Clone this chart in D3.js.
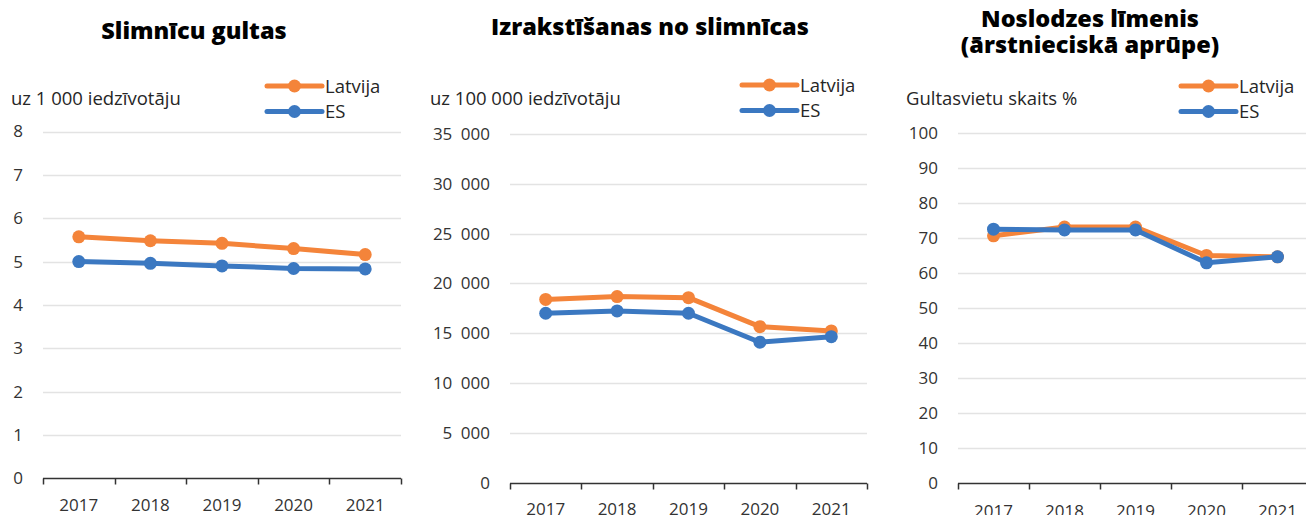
<!DOCTYPE html>
<html>
<head>
<meta charset="utf-8">
<script src="https://cdn.jsdelivr.net/npm/d3@7"></script>
<style>
  body { margin: 0; background: #fff; }
  svg { display: block; font-family: "Open Sans", sans-serif; }
  svg text { font-family: "Open Sans", sans-serif; }
  .title { font-weight: 800; fill: #000; font-size: 23.5px; }
  .unit, .legend text { fill: #262626; font-size: 18.5px; }
  .ytick text, .year { fill: #333; font-size: 17px; }
</style>
</head>
<body>
<svg width="1306" height="515"></svg>
<script>
var years = ["2017", "2018", "2019", "2020", "2021"];
var seriesNames = ["Latvija", "ES"];
var seriesColors = ["#f4843a", "#3b78c1"];

// slimnīcu gultas, uz 1 000 iedzīvotāju
var bedsLatvija = [5.57, 5.48, 5.42, 5.30, 5.16];
var bedsES = [5.00, 4.96, 4.90, 4.84, 4.83];
var bedsTicks = [0, 1, 2, 3, 4, 5, 6, 7, 8];

// izrakstīšanas, uz 100 000 iedzīvotāju
var dischLatvija = [18400, 18680, 18570, 15660, 15230];
var dischES = [17010, 17240, 17010, 14100, 14660];
var dischTicks = [0, 5000, 10000, 15000, 20000, 25000, 30000, 35000];

// noslodzes līmenis, %
var occLatvija = [70.7, 73.2, 73.2, 65.1, 64.7];
var occES = [72.6, 72.4, 72.4, 63.0, 64.7];
var occTicks = [0, 10, 20, 30, 40, 50, 60, 70, 80, 90, 100];

var fmt = d3.formatLocale({ decimal: ",", thousands: "\u2002", grouping: [3], currency: ["", ""] }).format(",d");

var panels = [
  { title: ["Slimnīcu gultas"], titleX: 194, titleY: 39, unit: "uz 1 000 iedzīvotāju", unitX: 11,
    x0: 43, x1: 401, yTop: 131.5, yBot: 478.3, ticks: bedsTicks, fmt: d3.format("d"),
    series: [bedsLatvija, bedsES], legX: 267, legY: 86, yearY: 511 },
  { title: ["Izrakstīšanas no slimnīcas"], titleX: 650, titleY: 35, unit: "uz 100 000 iedzīvotāju", unitX: 430,
    x0: 510, x1: 867, yTop: 134, yBot: 482.7, ticks: dischTicks, fmt: fmt,
    series: [dischLatvija, dischES], legX: 742, legY: 85, yearY: 515 },
  { title: ["Noslodzes līmenis", "(ārstnieciskā aprūpe)"], titleX: 1090, titleY: 27, unit: "Gultasvietu skaits %", unitX: 906,
    x0: 958, x1: 1313, yTop: 133.3, yBot: 483.3, ticks: occTicks, fmt: d3.format("d"),
    series: [occLatvija, occES], legX: 1181, legY: 86, yearY: 517 }
];

var svg = d3.select("svg");

panels.forEach(function (p) {
  var g = svg.append("g");
  var x = d3.scaleBand().domain(years).range([p.x0, p.x1]);
  var y = d3.scaleLinear()
    .domain([0, d3.max(p.ticks)])
    .range([p.yBot, p.yTop]);

  // gridlines
  g.append("g")
    .selectAll("line")
    .data(p.ticks.slice(1))
    .enter().append("line")
    .attr("x1", p.x0).attr("x2", p.x1)
    .attr("y1", d => Math.round(y(d)) + 0.5).attr("y2", d => Math.round(y(d)) + 0.5)
    .attr("stroke", "#e3e3e3").attr("stroke-width", 1.5);

  // y tick labels
  var yAxis = g.append("g")
    .attr("class", "ytick")
    .attr("transform", `translate(${p.x0 - 20},0)`)
    .call(d3.axisLeft(y).tickValues(p.ticks).tickFormat(p.fmt).tickSize(0).tickPadding(0));
  yAxis.select(".domain").remove();
  yAxis.attr("font-family", null).attr("font-size", null);

  // x axis with category ticks at band edges
  var xAxis = g.append("g")
    .attr("transform", `translate(0,${Math.round(p.yBot) + 0.5})`);
  xAxis.append("line")
    .attr("x1", p.x0).attr("x2", p.x1)
    .attr("stroke", "#333").attr("stroke-width", 1.5);
  xAxis.selectAll(".edge")
    .data(years.map(d => x(d)).concat([p.x1]))
    .enter().append("line")
    .attr("x1", d => Math.round(d) + 0.5).attr("x2", d => Math.round(d) + 0.5)
    .attr("y1", 0).attr("y2", 6)
    .attr("stroke", "#333").attr("stroke-width", 1.5);
  g.append("g")
    .selectAll("text")
    .data(years)
    .enter().append("text")
    .attr("class", "year")
    .attr("x", d => x(d) + x.bandwidth() / 2)
    .attr("y", p.yearY)
    .attr("text-anchor", "middle")
    .text(d => d);

  // lines + markers
  var line = d3.line()
    .x((d, i) => x(years[i]) + x.bandwidth() / 2)
    .y(d => y(d));

  p.series.forEach(function (vals, si) {
    g.append("path")
      .datum(vals)
      .attr("d", line)
      .attr("fill", "none")
      .attr("stroke", seriesColors[si])
      .attr("stroke-width", 5)
      .attr("stroke-linejoin", "round");
    g.append("g")
      .selectAll("circle")
      .data(vals)
      .enter().append("circle")
      .attr("cx", (d, i) => x(years[i]) + x.bandwidth() / 2)
      .attr("cy", d => y(d))
      .attr("r", 6.5)
      .attr("fill", seriesColors[si]);
  });

  // title
  var t = g.append("text")
    .attr("class", "title")
    .attr("text-anchor", "middle");
  p.title.forEach(function (s, i) {
    t.append("tspan").attr("x", p.titleX).attr("y", p.titleY + i * 26).text(s);
  });

  // unit label
  g.append("text")
    .attr("class", "unit")
    .attr("x", p.unitX)
    .attr("y", 105)
    .text(p.unit);

  // legend
  var leg = g.append("g").attr("class", "legend");
  seriesNames.forEach(function (name, si) {
    var ly = p.legY + si * 25.5;
    leg.append("line")
      .attr("x1", p.legX).attr("x2", p.legX + 55)
      .attr("y1", ly).attr("y2", ly)
      .attr("stroke", seriesColors[si]).attr("stroke-width", 5)
      .attr("stroke-linecap", "round");
    leg.append("circle")
      .attr("cx", p.legX + 27.5).attr("cy", ly).attr("r", 6.5)
      .attr("fill", seriesColors[si]);
    leg.append("text")
      .attr("x", p.legX + 58)
      .attr("y", ly + 6.5)
      .text(name);
  });
});
</script>
</body>
</html>
